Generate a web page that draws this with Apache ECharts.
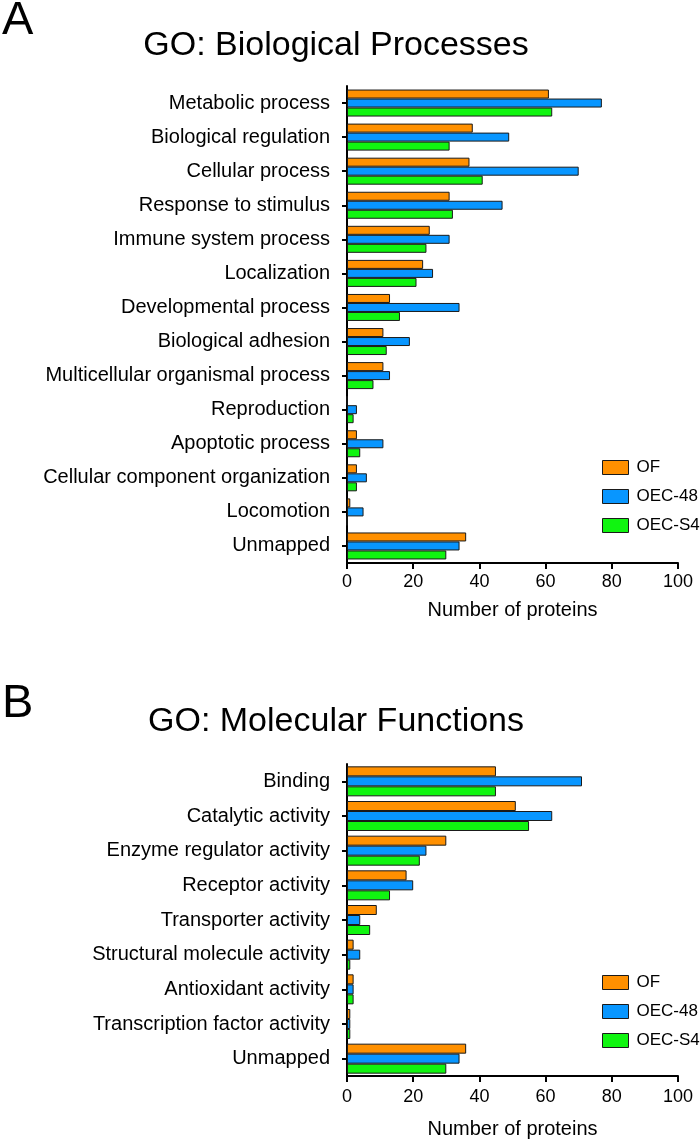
<!DOCTYPE html>
<html>
<head>
<meta charset="utf-8">
<script src="https://cdn.jsdelivr.net/npm/echarts@6/dist/echarts.min.js"></script>
<style>
html,body{margin:0;padding:0;background:#fff;}
#chart{width:700px;height:1144px;}
</style>
</head>
<body>
<div id="chart"></div>
<script>
var bpCategories = ['Metabolic process','Biological regulation','Cellular process','Response to stimulus','Immune system process','Localization','Developmental process','Biological adhesion','Multicellular organismal process','Reproduction','Apoptotic process','Cellular component organization','Locomotion','Unmapped'];
var bpOF    = [61, 38, 37, 31, 25, 23, 13, 11, 11, 0, 3, 3, 1, 36];
var bpOEC48 = [77, 49, 70, 47, 31, 26, 34, 19, 13, 3, 11, 6, 5, 34];
var bpOECS4 = [62, 31, 41, 32, 24, 21, 16, 12, 8, 2, 4, 3, 0, 30];

var mfCategories = ['Binding','Catalytic activity','Enzyme regulator activity','Receptor activity','Transporter activity','Structural molecule activity','Antioxidant activity','Transcription factor activity','Unmapped'];
var mfOF    = [45, 51, 30, 18, 9, 2, 2, 1, 36];
var mfOEC48 = [71, 62, 24, 20, 4, 4, 2, 1, 34];
var mfOECS4 = [45, 55, 22, 13, 7, 1, 2, 1, 30];

var seriesNames = ['OF', 'OEC-48', 'OEC-S4'];
var xTicks = [0, 20, 40, 60, 80, 100];
var panelLetters = ['A', 'B'];
var panelTitles = ['GO: Biological Processes', 'GO: Molecular Functions'];
var xAxisName = 'Number of proteins';

var FONT = '"Liberation Sans", Arial, Helvetica, sans-serif';
var colors = ['#ff9000', '#0896ff', '#10f510'];

var chart = echarts.init(document.getElementById('chart'), null, {renderer: 'canvas'});

function xAxisDef(gridIndex, nameGap, labelMargin) {
  return {
    type: 'value', gridIndex: gridIndex,
    min: xTicks[0], max: xTicks[xTicks.length - 1], interval: xTicks[1] - xTicks[0],
    name: xAxisName, nameLocation: 'middle', nameGap: nameGap,
    nameTextStyle: {fontFamily: FONT, fontSize: 20, color: '#000'},
    axisLine: {show: true, lineStyle: {color: '#000', width: 2}},
    axisTick: {show: true, length: 6, lineStyle: {color: '#000', width: 2}},
    axisLabel: {fontFamily: FONT, fontSize: 18, color: '#000', margin: labelMargin},
    splitLine: {show: false}
  };
}
function yAxisDef(gridIndex, cats) {
  return {
    type: 'category', gridIndex: gridIndex, data: cats, inverse: true,
    axisLine: {show: true, lineStyle: {color: '#000', width: 2}},
    axisTick: {show: true, alignWithLabel: true, length: 5, lineStyle: {color: '#000', width: 2}},
    axisLabel: {fontFamily: FONT, fontSize: 20, color: '#000', margin: 17},
    splitLine: {show: false}
  };
}
function barSeries(name, idx, axisIdx, data, bw) {
  return {
    type: 'bar', name: name, xAxisIndex: axisIdx, yAxisIndex: axisIdx,
    data: data, barWidth: bw, barGap: '0%',
    itemStyle: {color: colors[idx], borderColor: '#1a1a1a', borderWidth: 1},
    emphasis: {disabled: true},
    animation: false
  };
}
function legendDef(top) {
  return {
    data: seriesNames, orient: 'vertical', left: 597, top: top,
    itemWidth: 26, itemHeight: 14, itemGap: 12,
    icon: 'rect',
    itemStyle: {borderColor: '#1a1a1a', borderWidth: 1},
    textStyle: {fontFamily: FONT, fontSize: 17, color: '#000', lineHeight: 17, padding: [0, 0, 0, 3]}
  };
}

var option = {
  backgroundColor: '#fff',
  animation: false,
  color: colors,
  graphic: [
    {type: 'text', x: 2, y: 21, style: {text: panelLetters[0], fontFamily: FONT, fontSize: 47, fill: '#000', align: 'left', verticalAlign: 'middle'}},
    {type: 'text', x: 336, y: 46, style: {text: panelTitles[0], fontFamily: FONT, fontSize: 34, fill: '#000', align: 'center', verticalAlign: 'middle'}},
    {type: 'text', x: 2, y: 704, style: {text: panelLetters[1], fontFamily: FONT, fontSize: 47, fill: '#000', align: 'left', verticalAlign: 'middle'}},
    {type: 'text', x: 336, y: 722, style: {text: panelTitles[1], fontFamily: FONT, fontSize: 34, fill: '#000', align: 'center', verticalAlign: 'middle'}}
  ],
  legend: [legendDef(454), legendDef(969)],
  grid: [
    {left: 347, top: 86, width: 331, height: 477, containLabel: false},
    {left: 347, top: 764, width: 331, height: 312, containLabel: false}
  ],
  xAxis: [xAxisDef(0, 37, 10), xAxisDef(1, 43, 12)],
  yAxis: [yAxisDef(0, bpCategories), yAxisDef(1, mfCategories)],
  series: [
    barSeries(seriesNames[0], 0, 0, bpOF, 9),
    barSeries(seriesNames[1], 1, 0, bpOEC48, 9),
    barSeries(seriesNames[2], 2, 0, bpOECS4, 9),
    barSeries(seriesNames[0], 0, 1, mfOF, 10),
    barSeries(seriesNames[1], 1, 1, mfOEC48, 10),
    barSeries(seriesNames[2], 2, 1, mfOECS4, 10)
  ]
};
chart.setOption(option);
</script>
</body>
</html>
